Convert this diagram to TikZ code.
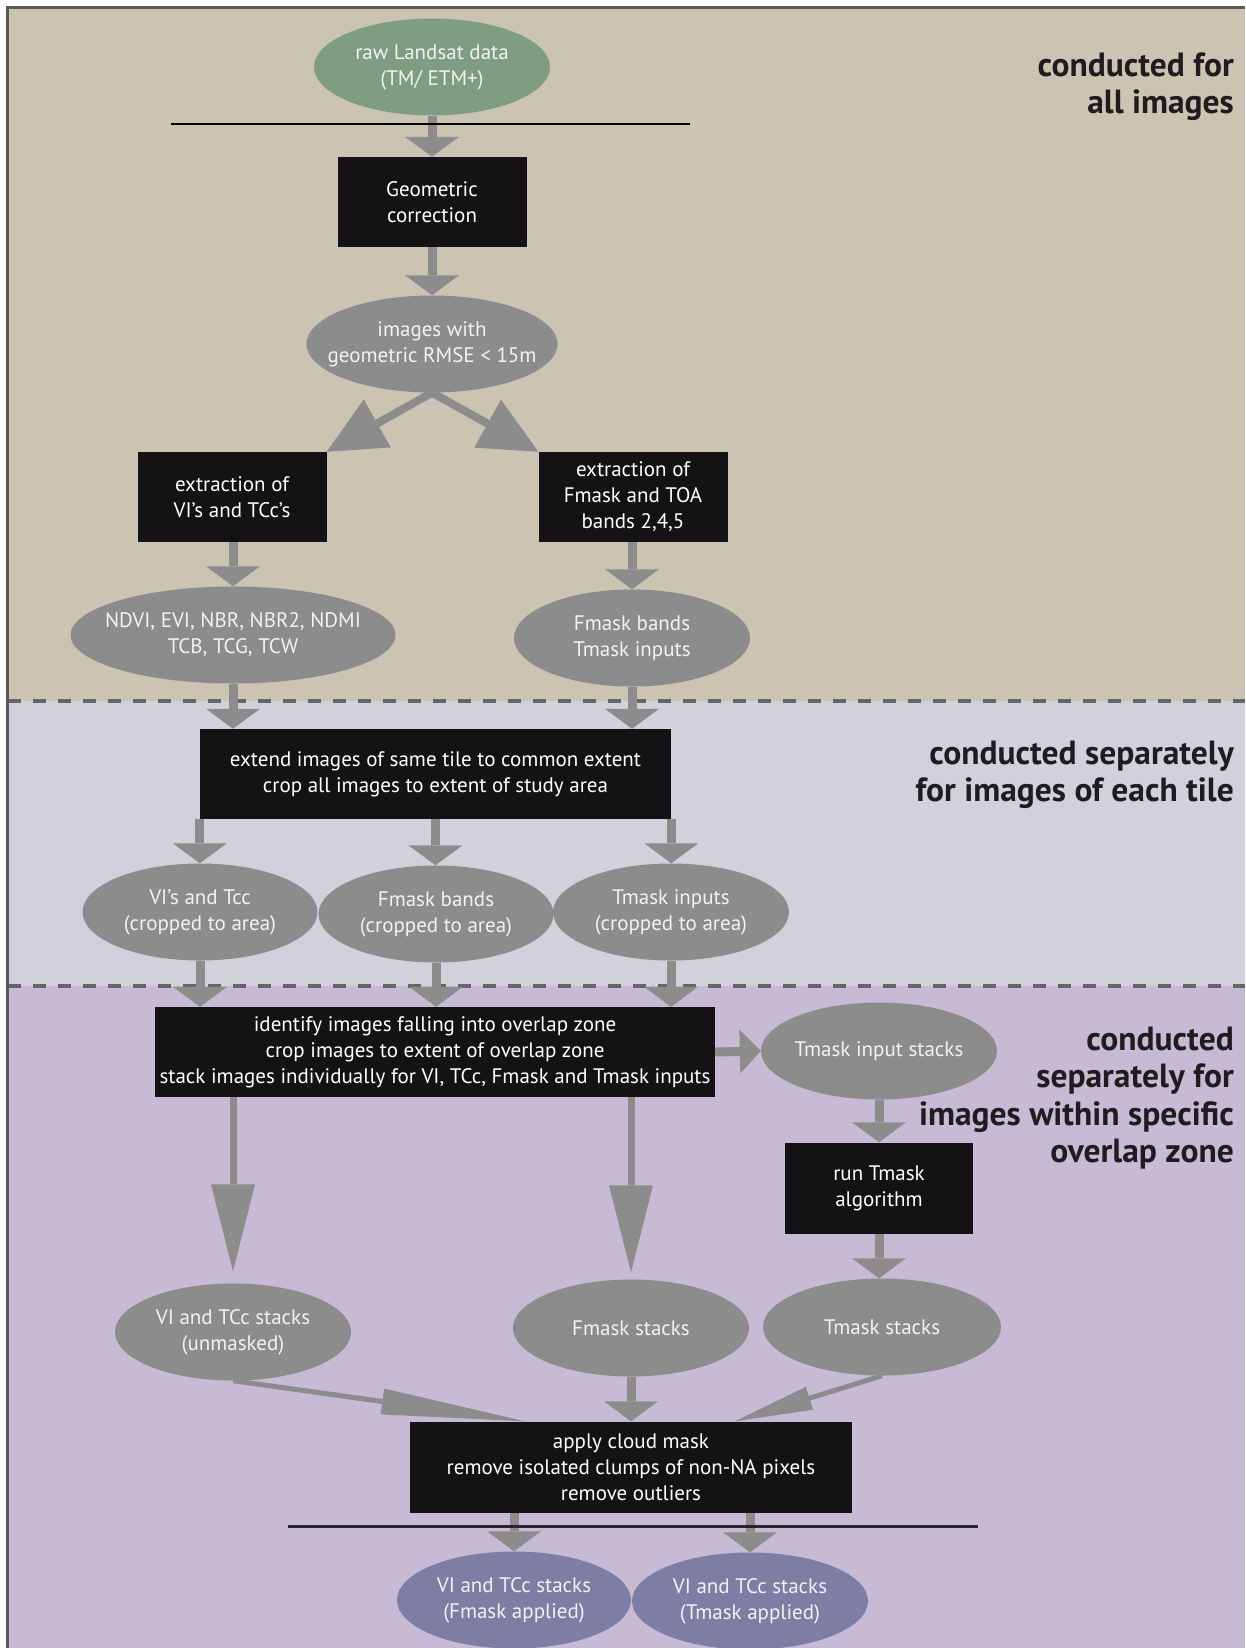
\documentclass[tikz,border=0pt]{standalone}
\usepackage{fontspec}
\setmainfont{PT Sans}
\usetikzlibrary{arrows.meta,shapes.geometric}
\definecolor{tanbg}{RGB}{203,196,178}
\definecolor{tilebg}{RGB}{209,208,219}
\definecolor{zonebg}{RGB}{198,186,212}
\definecolor{ellgray}{RGB}{140,140,140}
\definecolor{arrgray}{RGB}{140,140,140}
\definecolor{rawgreen}{RGB}{126,157,131}
\definecolor{finblue}{RGB}{126,126,165}
\definecolor{boxblack}{RGB}{20,18,20}
\definecolor{dashgray}{RGB}{102,102,102}
\definecolor{framegray}{RGB}{90,90,90}
\definecolor{lbltext}{RGB}{30,28,30}
\definecolor{elltext}{RGB}{242,242,242}
\begin{document}
\begin{tikzpicture}[x=1pt,y=-1pt,
  ell/.style={ellipse,fill=ellgray,text=elltext,inner xsep=-30pt,inner ysep=0pt,
    minimum width=236pt,minimum height=97pt,align=center,font=\fontsize{21}{26}\selectfont},
  blk/.style={rectangle,fill=boxblack,text=white,inner sep=0pt,
    minimum width=189pt,minimum height=90pt,align=center,font=\fontsize{21}{26}\selectfont},
  flow/.style={draw=arrgray,line width=9pt,-{Triangle[width=54pt,length=20pt,line width=0pt]}},
  diag/.style={draw=arrgray,line width=8pt,-{Triangle[width=55pt,length=58pt,line width=0pt]}},
  longflow/.style={draw=arrgray,line width=7pt,-{Triangle[width=44pt,length=87pt,line width=0pt]}},
  conv/.style={draw=arrgray,line width=5pt},
  zonelbl/.style={anchor=east,align=right,text=lbltext,inner sep=0pt,
    font=\bfseries\fontsize{33.5}{37.5}\selectfont},
  dashsep/.style={draw=dashgray,line width=3.5pt,dash pattern=on 13pt off 12pt}]
\useasboundingbox (0,0) rectangle (1245,1648);
% background zones
\fill[tanbg] (8,8) rectangle (1245,701);
\fill[tilebg] (8,701) rectangle (1245,986);
\fill[zonebg] (8,986) rectangle (1245,1648);
\draw[dashsep] (8,701) -- (1245,701);
\draw[dashsep] (8,986) -- (1245,986);
\draw[framegray,line width=3pt] (7,1648) -- (7,7.5) -- (1245,7.5);

% zone labels
\node[zonelbl] (lblall) at (1234,86.5) {conducted for\\all images};
\node[zonelbl] (lbltile) at (1234,775) {conducted separately\\for images of each tile};
\node[zonelbl] (lblzone) at (1234,1098) {conducted\\separately for\\images within specific\\overlap zone};

% all images
\node[ell,fill=rawgreen] (raw) at (432,67) {raw Landsat data\\(TM/ ETM+)};
\node[blk] (geo) at (432,202) {Geometric\\correction};
\node[ell,minimum width=251pt] (rmse) at (432,344) {images with\\geometric RMSE < 15m};
\node[blk] (exvi) at (232,497) {extraction of\\VI’s and TCc’s};
\node[blk] (exfm) at (633,497) {extraction of\\Fmask and TOA\\bands 2,4,5};
\node[ell,minimum width=325pt] (ndvi) at (233,635) {NDVI, EVI, NBR, NBR2, NDMI\\TCB, TCG, TCW};
\node[ell] (fmb) at (632,638) {Fmask bands\\Tmask inputs};

% each tile
\node[blk,minimum width=471pt] (extend) at (435.5,774) {extend images of same tile to common extent\\crop all images to extent of study area};
\node[ell,minimum width=235pt] (vicrop) at (200,912) {VI’s and Tcc\\(cropped to area)};
\node[ell,minimum width=235pt] (fmcrop) at (436,914) {Fmask bands\\(cropped to area)};
\node[ell] (tmcrop) at (671,912) {Tmask inputs\\(cropped to area)};

% overlap zone
\node[blk,minimum width=560pt] (ident) at (435,1052) {identify images falling into overlap zone\\crop images to extent of overlap zone\\stack images individually for VI, TCc, Fmask and Tmask inputs};
\node[ell] (tmin) at (879,1051) {Tmask input stacks};
\node[blk,minimum width=188pt,minimum height=91pt] (runtm) at (879,1188) {run Tmask\\algorithm};
\node[ell,minimum width=238pt] (tmst) at (882,1327) {Tmask stacks};
\node[ell] (fmst) at (631,1328) {Fmask stacks};
\node[ell] (vist) at (233,1332) {VI and TCc stacks\\(unmasked)};
\node[blk,minimum width=442pt,minimum height=91pt] (apply) at (631,1467) {apply cloud mask\\remove isolated clumps of non-NA pixels\\remove outliers};
\node[ell,fill=finblue,minimum width=234pt] (finf) at (514,1600) {VI and TCc stacks\\(Fmask applied)};
\node[ell,fill=finblue] (fint) at (750,1601) {VI and TCc stacks\\(Tmask applied)};

% connectors
\draw[flow] (raw.south) -- (geo.north);
\draw[flow] (geo.south) -- (rmse.north);
\draw[diag] (rmse.south) -- (exvi.north east);
\draw[diag] (rmse.south) -- (exfm.north west);
\draw[flow] (exvi.south -| ndvi) -- (ndvi.north);
\draw[flow] (exfm.south -| fmb) -- (fmb.north);
\draw[flow] (ndvi.south) -- (ndvi.south |- extend.north);
\draw[flow] (fmb.south) -- (fmb.south |- extend.north);
\draw[flow] (extend.south west) -- (extend.south west |- vicrop.north);
\draw[flow] (extend.south) -- (extend.south |- fmcrop.north);
\draw[flow] (extend.south east) -- (extend.south east |- tmcrop.north);
\draw[flow] (vicrop.south) -- (vicrop.south |- ident.north);
\draw[flow] (fmcrop.south) -- (fmcrop.south |- ident.north);
\draw[flow] (tmcrop.south) -- (tmcrop.south |- ident.north);
\draw[flow,-{Triangle[width=44pt,length=21pt,line width=0pt]}] (ident.east) -- (tmin.west);
\draw[flow] (tmin.south) -- (runtm.north);
\draw[flow] (runtm.south) -- (runtm.south |- tmst.north);
\draw[longflow] (vist |- ident.south) -- ([yshift=12pt]vist.north);
\draw[longflow] (fmst |- ident.south) -- ([yshift=7pt]fmst.north);
\draw[conv,-{Triangle[width=26pt,length=144pt,line width=0pt]}] (vist.south) -- ([xshift=-106pt]apply.north);
\draw[flow] (fmst.south) -- (apply.north);
\draw[conv,-{Triangle[width=24pt,length=78pt,line width=0pt]}] (tmst.south) -- ([xshift=104pt]apply.north);
\draw[flow] (finf |- apply.south) -- (finf.north);
\draw[flow] (fint |- apply.south) -- (fint.north);

% separating lines
\draw[black,line width=2pt] (171,124) -- (690,124);
\draw[black!80!zonebg,line width=3pt] (288,1526) -- (978,1526);
\end{tikzpicture}
\end{document}
